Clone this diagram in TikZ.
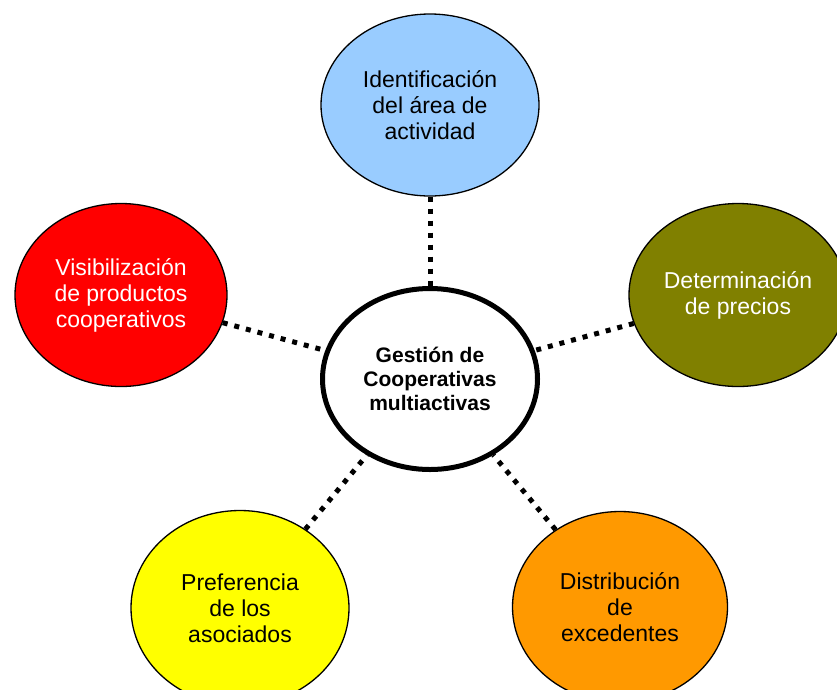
\documentclass[tikz,border=0pt]{standalone}
\usepackage{fontspec}
\setmainfont{Liberation Sans}
\usetikzlibrary{shapes.geometric}
\definecolor{skyfill}{HTML}{99CCFF}
\definecolor{redfill}{HTML}{FF0000}
\definecolor{olivefill}{HTML}{808000}
\definecolor{yellowfill}{HTML}{FFFF00}
\definecolor{orangefill}{HTML}{FF9900}
\begin{document}
\begin{tikzpicture}[x=1pt,y=-1pt,
  topic/.style={ellipse, draw=black, line width=1.3pt, inner sep=0pt,
    align=center, font=\fontsize{23}{26}\selectfont},
  hub/.style={ellipse, draw=black, line width=5pt, fill=white,
    minimum width=215pt, minimum height=181pt, inner sep=0pt,
    align=center, font=\fontsize{21}{24}\selectfont\bfseries},
  link/.style={line width=5pt, dash pattern=on 5pt off 7pt}]
  \path[use as bounding box, clip] (0,0) rectangle (837,689);

  % central topic
  \node[hub] (hub) at (430,379) {Gestión de\\Cooperativas\\multiactivas};

  % surrounding topics
  \node[topic, fill=skyfill, minimum width=218pt, minimum height=182pt]
    (area) at (430,105) {Identificación\\del área de\\actividad};
  \node[topic, fill=redfill, text=white, minimum width=212pt, minimum height=183pt]
    (visib) at (121,295) {Visibilización\\de productos\\cooperativos};
  \node[topic, fill=olivefill, text=white, minimum width=218pt, minimum height=183pt]
    (precio) at (738,295) {Determinación\\de precios};
  \node[topic, fill=yellowfill, minimum width=218pt, minimum height=195pt]
    (pref) at (240,608) {Preferencia\\de los\\asociados};
  \node[topic, fill=orangefill, minimum width=215pt, minimum height=191pt]
    (distr) at (620,607) {Distribución\\de\\excedentes};

  % dotted connectors
  \draw[link] (area) -- (hub);
  \draw[link] (visib) -- (hub);
  \draw[link] (precio) -- (hub);
  \draw[link] (pref) -- (hub);
  \draw[link] (distr) -- (hub);
\end{tikzpicture}
\end{document}
